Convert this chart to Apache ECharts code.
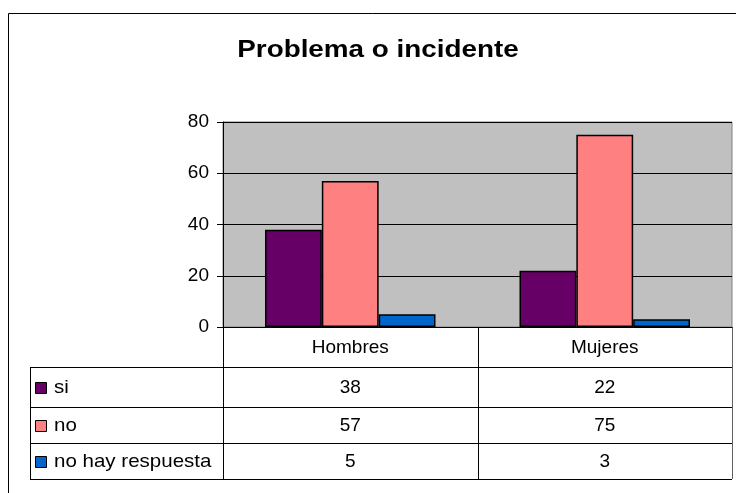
<!DOCTYPE html>
<html>
<head>
<meta charset="utf-8">
<script src="https://cdn.jsdelivr.net/npm/echarts@6/dist/echarts.min.js"></script>
<style>
  html, body { margin: 0; padding: 0; background: #fff; }
  #chart { width: 736px; height: 493px; }
</style>
</head>
<body>
<div id="chart"></div>
<script>
// Survey answers by group
const chartTitle = 'Problema o incidente';
const categories = ['Hombres', 'Mujeres'];
const seriesNames = ['si', 'no', 'no hay respuesta'];
const siValues = [38, 22];
const noValues = [57, 75];
const noAnswerValues = [5, 3];
const yTicks = [0, 20, 40, 60, 80];

const seriesValues = [siValues, noValues, noAnswerValues];
const seriesColors = ['#660066', '#FF8080', '#0066CC'];
const FONT = '"Liberation Sans", Arial, sans-serif';
const BODY_SIZE = 19;

const chart = echarts.init(document.getElementById('chart'), null, { renderer: 'canvas' });

// Plot frame
const plot = { left: 223, top: 122, right: 732, bottom: 327 };
// Data table rows (legend key + values per category)
const rowLines = [367, 407, 443, 479];
const tableLeft = 30;

const option = {
  animation: false,
  backgroundColor: '#fff',
  textStyle: { fontFamily: FONT },
  grid: {
    left: plot.left,
    top: plot.top,
    width: plot.right - plot.left,
    height: plot.bottom - plot.top,
    show: true,
    backgroundColor: '#C0C0C0',
    borderColor: '#808080',
    borderWidth: 1
  },
  xAxis: {
    type: 'category',
    data: categories,
    axisLine: { show: true, lineStyle: { color: '#000', width: 1 } },
    axisTick: { show: false },
    axisLabel: { color: '#000', fontSize: BODY_SIZE, fontFamily: FONT, margin: 11 },
    splitLine: { show: false }
  },
  yAxis: {
    type: 'value',
    min: yTicks[0],
    max: yTicks[yTicks.length - 1],
    interval: yTicks[1] - yTicks[0],
    axisLine: { show: true, lineStyle: { color: '#000', width: 1 } },
    axisTick: { show: true, length: 6, lineStyle: { color: '#000' } },
    axisLabel: { color: '#000', fontSize: BODY_SIZE, fontFamily: FONT, margin: 14 },
    splitLine: { show: true, lineStyle: { color: '#000', width: 1 } }
  },
  series: seriesNames.map((name, i) => ({
    name: name,
    type: 'bar',
    data: seriesValues[i],
    barGap: '0%',
    barCategoryGap: '33%',
    itemStyle: { color: seriesColors[i], borderColor: '#000', borderWidth: 1.5 }
  }))
};

chart.setOption(option);

// Title, frame and the data table beneath the plot, aligned with the category axis
function buildExtras() {
  const els = [];
  const line = (x1, y1, x2, y2, color) => els.push({
    type: 'line',
    shape: { x1: x1, y1: y1, x2: x2, y2: y2 },
    style: { stroke: color || '#000', lineWidth: 1 },
    silent: true
  });

  // outer chart border
  els.push({
    type: 'rect',
    shape: { x: 8.5, y: 13.5, width: 740, height: 500 },
    style: { fill: null, stroke: '#000', lineWidth: 1 },
    silent: true
  });

  // title, slightly widened
  els.push({
    type: 'text',
    x: 378, y: 50.5,
    scaleX: 1.16,
    style: { text: chartTitle, font: 'bold 24px ' + FONT, fill: '#000', align: 'center', verticalAlign: 'middle' },
    silent: true
  });

  const catWidth = (plot.right - plot.left) / categories.length;
  // vertical separators
  for (let c = 0; c <= categories.length; c++) {
    const x = Math.round(plot.left + c * catWidth) + 0.5;
    line(x, plot.bottom, x, rowLines[rowLines.length - 1], c === categories.length ? '#606060' : '#000');
  }
  line(tableLeft + 0.5, rowLines[0], tableLeft + 0.5, rowLines[rowLines.length - 1]);
  // horizontal row lines
  rowLines.forEach(y => line(tableLeft, y + 0.5, plot.right, y + 0.5));

  seriesNames.forEach((name, r) => {
    const yMid = (rowLines[r] + rowLines[r + 1]) / 2 + 1;
    els.push({
      type: 'rect',
      shape: { x: 35.5, y: yMid - 5.5, width: 11, height: 11 },
      style: { fill: seriesColors[r], stroke: '#000', lineWidth: 1 },
      silent: true
    });
    els.push({
      type: 'text',
      x: 54, y: yMid,
      scaleX: 1.08,
      style: { text: name, font: BODY_SIZE + 'px ' + FONT, fill: '#000', verticalAlign: 'middle', align: 'left' },
      silent: true
    });
    categories.forEach((cat, c) => {
      const px = chart.convertToPixel({ xAxisIndex: 0 }, cat);
      els.push({
        type: 'text',
        x: px, y: yMid,
        style: { text: String(seriesValues[r][c]), font: BODY_SIZE + 'px ' + FONT, fill: '#000', verticalAlign: 'middle', align: 'center' },
        silent: true
      });
    });
  });
  return els;
}

chart.setOption({ graphic: { elements: buildExtras() } });
</script>
</body>
</html>
